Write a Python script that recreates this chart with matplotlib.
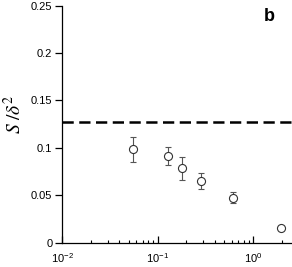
import matplotlib
matplotlib.use("Agg")
import matplotlib.pyplot as plt
import numpy as np

plt.rcParams['font.family'] = ['Liberation Sans', 'DejaVu Sans']
plt.rcParams['mathtext.fontset'] = 'stix'

x_vals = [0.055, 0.128, 0.179, 0.288, 0.612, 1.96]
y_vals = [0.0986, 0.0916, 0.0786, 0.0656, 0.0477, 0.0155]
y_err = [0.013, 0.0098, 0.012, 0.0085, 0.006, 0.0015]
ref_level = 0.127
y_ticks = [0, 0.05, 0.1, 0.15, 0.2, 0.25]
y_ticklabels = ['0', '0.05', '0.1', '0.15', '0.2', '0.25']

fig = plt.figure(figsize=(2.92, 2.67), dpi=100)
ax = fig.add_axes([0.2123, 0.0899, 0.7877, 0.8895])

ax.errorbar(x_vals, y_vals, yerr=y_err, fmt='o', ms=5.8, mfc='white',
            mec='#333333', mew=0.8, ecolor='#555555', elinewidth=0.8,
            capsize=2, capthick=0.8, zorder=3)
ax.axhline(ref_level, color='black', lw=1.8, ls=(0, (4.5, 2.2)))

ax.set_xscale('log')
ax.set_xlim(1e-2, 10**0.408)
ax.set_ylim(0, 0.25)
ax.set_yticks(y_ticks)
ax.set_yticklabels(y_ticklabels)

for s in ['top', 'right']:
    ax.spines[s].set_visible(False)
for s in ['left', 'bottom']:
    ax.spines[s].set_linewidth(0.9)

ax.tick_params(axis='y', which='major', direction='out', length=5, width=0.9,
               labelsize=8, pad=2)
ax.tick_params(axis='x', which='major', direction='in', length=5, width=0.9,
               labelsize=8, pad=6)
ax.tick_params(axis='x', which='minor', direction='in', length=2.5, width=0.8)
ax.yaxis.set_minor_locator(matplotlib.ticker.NullLocator())

ax.set_ylabel(r'$S\ /\delta^2$', fontsize=14)
ax.yaxis.set_label_coords(-0.16, 0.54)

fig.text(0.905, 0.905, 'b', fontsize=13, fontweight='bold', ha='left', va='bottom')

fig.savefig('out.png', dpi=100)
